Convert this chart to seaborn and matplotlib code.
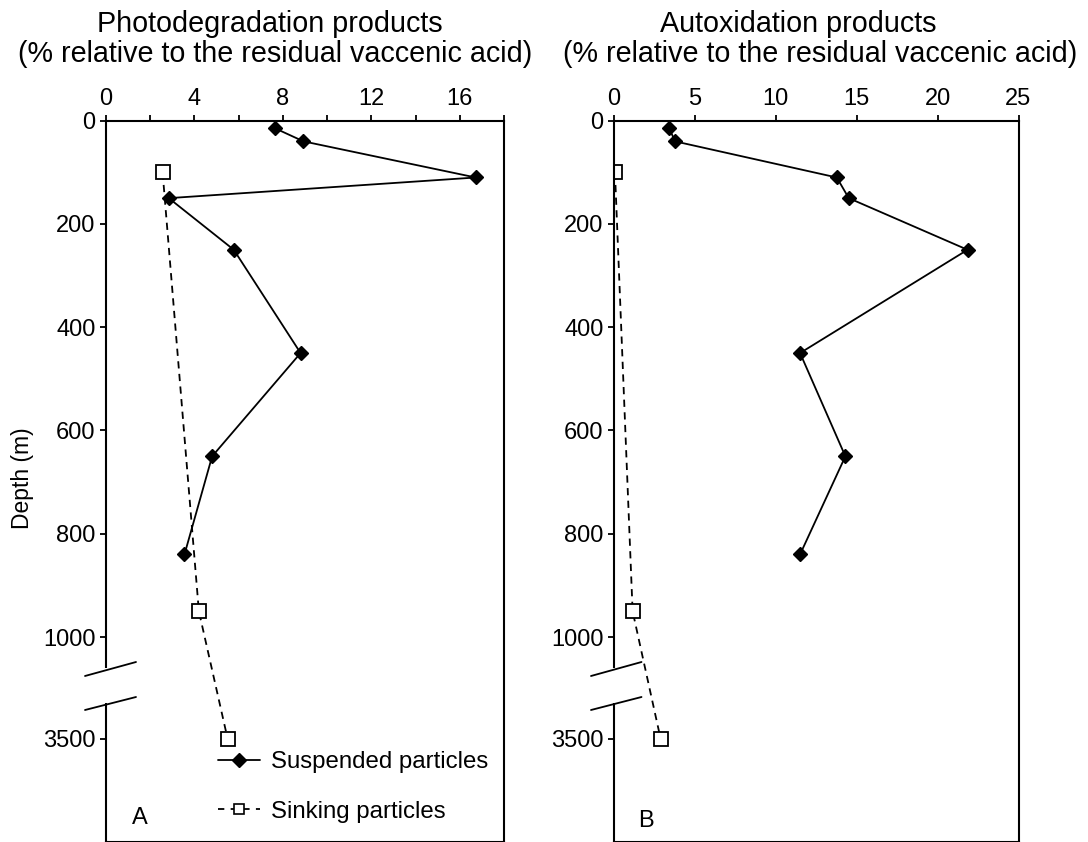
import numpy as np
import pandas as pd
import matplotlib
matplotlib.use("Agg")
import matplotlib.pyplot as plt
from matplotlib.lines import Line2D
import seaborn as sns

# ---------------- data ----------------
depth_susp = [15, 40, 110, 150, 250, 450, 650, 840]
photo_susp = [7.66, 8.93, 16.72, 2.84, 5.78, 8.80, 4.8, 3.55]
autox_susp = [3.42, 3.77, 13.77, 14.51, 21.85, 11.5, 14.3, 11.5]

depth_sink = [100, 950, 3500]
photo_sink = [2.56, 4.2, 5.5]
autox_sink = [0.06, 1.15, 2.88]

depth_ticks = [0, 200, 400, 600, 800, 1000, 3500]
photo_ticks = [0, 4, 8, 12, 16]
photo_minor = [2, 6, 10, 14, 18]
autox_ticks = [0, 5, 10, 15, 20, 25]

title_A = ["Photodegradation products", "(% relative to the residual vaccenic acid)"]
title_B = ["Autoxidation products", "(% relative to the residual vaccenic acid)"]
legend_labels = ["Suspended particles", "Sinking particles"]

# ---------------- style ----------------
sns.set_theme(style="white")
plt.rcParams['font.family'] = ['Liberation Sans', 'DejaVu Sans']
plt.rcParams['text.color'] = 'black'
plt.rcParams['axes.labelcolor'] = 'black'
plt.rcParams['xtick.color'] = 'black'
plt.rcParams['ytick.color'] = 'black'

W, H = 1088, 842
fig = plt.figure(figsize=(W / 100, H / 100), dpi=100)


def fx(px):
    return px / W


def fy(py):
    return 1 - py / H


TOP = 120.7
axA = fig.add_axes([fx(106), 0, fx(504) - fx(106), fy(TOP)])
axB = fig.add_axes([fx(614), 0, fx(1018.5) - fx(614), fy(TOP)])

# broken depth axis: 1000 -> 3500 compressed into a short gap
GAP = 197.0
_xp = np.array([-1e6, 1000.0, 3500.0, 1e6])
_fp = np.array([-1e6, 1000.0, 1000.0 + GAP, 1000.0 + GAP + 1e6 - 3500.0])


def fwd(d):
    return np.interp(d, _xp, _fp)


def inv(t):
    return np.interp(t, _fp, _xp)


LW = 1.3
TICKFS = 17
for ax, xs, xk, xlim, ticks in [
    (axA, photo_susp, photo_sink, 18, photo_ticks),
    (axB, autox_susp, autox_sink, 25, autox_ticks),
]:
    ax.set_yscale('function', functions=(fwd, inv))
    sns.lineplot(x=xs, y=depth_susp, ax=ax, sort=False, estimator=None,
                 color='black', lw=LW, marker='D', ms=7.5, mfc='black',
                 mec='black', mew=1)
    sns.lineplot(x=xk, y=depth_sink, ax=ax, sort=False, estimator=None,
                 color='black', lw=LW, linestyle=(0, (4, 3)), marker='s',
                 ms=9.5, mfc='white', mec='black', mew=1.3)
    ax.set_xlim(0, xlim)
    ax.set_ylim(3700, 0)
    ax.set_xticks(ticks)
    ax.set_yticks(depth_ticks)
    ax.set_yticklabels([str(t) for t in depth_ticks])
    ax.xaxis.tick_top()
    ax.tick_params(axis='x', which='both', top=True, bottom=False,
                   labeltop=True, labelbottom=False, direction='out',
                   length=4, width=1.3, labelsize=TICKFS, pad=4,
                   colors='black', labelcolor='black')
    ax.tick_params(axis='y', which='both', left=True, right=False,
                   direction='out', length=4, width=1.3, labelsize=TICKFS,
                   pad=3.5, colors='black', labelcolor='black')
    ax.yaxis.set_minor_locator(matplotlib.ticker.NullLocator())
    ax.set_xlabel('')
    ax.set_ylabel('')
    ax.set_facecolor('white')
    ax.grid(False)
    for s in ['top', 'right', 'bottom']:
        ax.spines[s].set_visible(True)
        ax.spines[s].set_color('black')
        ax.spines[s].set_linewidth(1.5)
    ax.spines['left'].set_visible(False)
    # left spine with a gap for the axis break
    axh = H - TOP
    y1 = 1 - (668 - TOP) / axh
    y2 = 1 - (703 - TOP) / axh
    ax.plot([0, 0], [1, y1], transform=ax.transAxes, color='black', lw=1.5,
            clip_on=False, solid_capstyle='butt')
    ax.plot([0, 0], [y2, 0], transform=ax.transAxes, color='black', lw=1.5,
            clip_on=False, solid_capstyle='butt')

axA.set_xticks(photo_minor, minor=True)

# break marks
for x0, x1 in [(85, 136), (591, 641.5)]:
    fig.add_artist(Line2D([fx(x0), fx(x1)], [fy(676), fy(662)], color='black', lw=1.3))
    fig.add_artist(Line2D([fx(x0), fx(x1)], [fy(710), fy(697)], color='black', lw=1.3))

# titles
TFS = 20.7
fig.text(fx(270), fy(24), title_A[0], ha='center', va='center', fontsize=TFS, color='black')
fig.text(fx(275), fy(54), title_A[1], ha='center', va='center', fontsize=TFS, color='black')
fig.text(fx(798), fy(24), title_B[0], ha='center', va='center', fontsize=TFS, color='black')
fig.text(fx(820), fy(54), title_B[1], ha='center', va='center', fontsize=TFS, color='black')

# y label
fig.text(fx(23), fy(478), "Depth (m)", rotation=90, ha='center', va='center',
         fontsize=16.5, color='black')

# panel letters
fig.text(fx(140), fy(818), "A", ha='center', va='center', fontsize=17, color='black')
fig.text(fx(646), fy(821), "B", ha='center', va='center', fontsize=17, color='black')

# legend
handles = [
    Line2D([], [], color='black', lw=LW, marker='D', ms=7.5, mfc='black', mec='black'),
    Line2D([], [], color='black', lw=LW, linestyle=(0, (3.5, 3.5)), marker='s',
           ms=6.5, mfc='white', mec='black', mew=1.2),
]
leg = axA.legend(handles, legend_labels, loc='center left',
                 bbox_to_anchor=(fx(218), fy(787)), bbox_transform=fig.transFigure,
                 frameon=False, fontsize=17.3, handlelength=1.75, handletextpad=0.45,
                 labelspacing=1.15, borderpad=0, borderaxespad=0)
for t in leg.get_texts():
    t.set_color('black')

fig.savefig("out.png", dpi=100, facecolor='white')
